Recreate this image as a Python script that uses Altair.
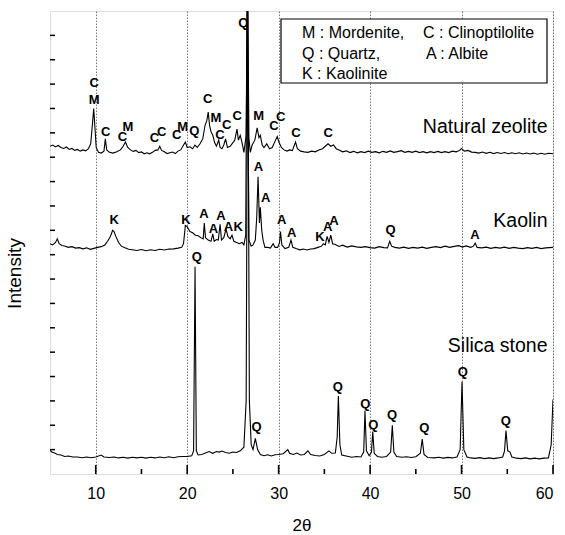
import altair as alt
import pandas as pd

# ---------------- data ----------------
# (2theta, intensity) points of each XRD trace (offset stacked)
zeolite = [
    (5.0, 13.45), (5.3, 13.5), (5.6, 13.42), (5.9, 13.48), (6.2, 13.4), (6.5, 13.36), (6.8, 13.42),
    (7.1, 13.32), (7.4, 13.36), (7.7, 13.28), (8.0, 13.32), (8.3, 13.25), (8.6, 13.3), (8.9, 13.26),
    (9.2, 13.35), (9.45, 13.55), (9.65, 14.4), (9.78, 15.0), (9.9, 14.3), (10.05, 13.4), (10.3, 13.2),
    (10.6, 13.17), (10.9, 13.25), (11.05, 13.75), (11.2, 13.3), (11.5, 13.2), (11.9, 13.17),
    (12.3, 13.22), (12.7, 13.3), (13.0, 13.45), (13.25, 13.62), (13.5, 13.4), (13.8, 13.3),
    (14.1, 13.24), (14.4, 13.28), (14.7, 13.19), (15.0, 13.22), (15.3, 13.14), (15.6, 13.18),
    (15.9, 13.14), (16.2, 13.2), (16.5, 13.28), (16.8, 13.3), (17.0, 13.45), (17.2, 13.28),
    (17.5, 13.22), (17.8, 13.15), (18.1, 13.18), (18.4, 13.21), (18.7, 13.15), (19.0, 13.25),
    (19.3, 13.3), (19.6, 13.5), (19.8, 13.62), (20.0, 13.4), (20.3, 13.43), (20.6, 13.35),
    (20.85, 13.5), (21.1, 13.4), (21.4, 13.55), (21.7, 13.75), (21.95, 14.3), (22.15, 14.5),
    (22.3, 14.85), (22.45, 14.3), (22.6, 14.05), (22.8, 13.9), (23.0, 13.6), (23.2, 13.45),
    (23.45, 13.7), (23.6, 13.4), (23.8, 13.35), (24.0, 13.5), (24.2, 13.75), (24.4, 13.4),
    (24.7, 13.45), (25.0, 13.6), (25.2, 13.7), (25.45, 14.15), (25.6, 13.7), (25.8, 13.9),
    (26.0, 13.6), (26.2, 13.2), (26.45, 13.9), (26.6, 20.5), (26.75, 13.8), (26.9, 13.2),
    (27.1, 13.5), (27.4, 13.7), (27.65, 14.2), (27.85, 13.8), (28.0, 13.9), (28.2, 13.5),
    (28.4, 13.4), (28.7, 13.55), (29.0, 13.35), (29.3, 13.4), (29.6, 13.65), (29.85, 13.85),
    (30.05, 13.6), (30.3, 13.4), (30.6, 13.3), (30.9, 13.25), (31.2, 13.3), (31.5, 13.27),
    (31.85, 13.62), (32.05, 13.35), (32.4, 13.25), (32.8, 13.22), (33.2, 13.2), (33.6, 13.25),
    (34.0, 13.22), (34.4, 13.3), (34.8, 13.35), (35.1, 13.45), (35.4, 13.55), (35.7, 13.45),
    (36.0, 13.5), (36.3, 13.35), (36.6, 13.3), (37.0, 13.22), (37.4, 13.26), (37.8, 13.19),
    (38.2, 13.24), (38.6, 13.18), (39.0, 13.23), (39.4, 13.19), (39.8, 13.25), (40.2, 13.2),
    (40.6, 13.23), (41.0, 13.18), (41.4, 13.24), (41.8, 13.2), (42.2, 13.26), (42.6, 13.2),
    (43.0, 13.23), (43.4, 13.27), (43.8, 13.2), (44.2, 13.24), (44.6, 13.2), (45.0, 13.25),
    (45.4, 13.19), (45.8, 13.23), (46.2, 13.18), (46.6, 13.23), (47.0, 13.19), (47.4, 13.24),
    (47.8, 13.19), (48.2, 13.23), (48.6, 13.19), (49.0, 13.25), (49.4, 13.22), (49.8, 13.28),
    (50.0, 13.36), (50.3, 13.25), (50.7, 13.28), (51.1, 13.21), (51.5, 13.2), (51.9, 13.17),
    (52.3, 13.21), (52.7, 13.16), (53.1, 13.2), (53.5, 13.15), (53.9, 13.19), (54.3, 13.15),
    (54.7, 13.19), (55.1, 13.14), (55.5, 13.18), (55.9, 13.14), (56.3, 13.18), (56.7, 13.13),
    (57.1, 13.17), (57.5, 13.13), (57.9, 13.17), (58.3, 13.12), (58.7, 13.16), (59.1, 13.12),
    (59.5, 13.16), (60.0, 13.14),
]

kaolin = [
    (5.0, 9.45), (5.3, 9.4), (5.6, 9.5), (5.8, 9.65), (6.0, 9.45), (6.3, 9.38), (6.6, 9.36),
    (7.0, 9.3), (7.4, 9.33), (7.8, 9.27), (8.2, 9.29), (8.6, 9.24), (9.0, 9.28), (9.4, 9.22),
    (9.8, 9.26), (10.2, 9.3), (10.6, 9.33), (11.0, 9.4), (11.3, 9.55), (11.6, 9.75), (11.85, 10.0),
    (12.0, 9.95), (12.2, 9.75), (12.5, 9.5), (12.8, 9.35), (13.2, 9.28), (13.6, 9.22), (14.0, 9.2),
    (14.5, 9.17), (15.0, 9.21), (15.5, 9.16), (16.0, 9.2), (16.5, 9.17), (17.0, 9.22), (17.5, 9.19),
    (18.0, 9.23), (18.5, 9.24), (19.0, 9.27), (19.4, 9.3), (19.6, 9.45), (19.8, 10.2), (20.0, 10.15),
    (20.3, 9.95), (20.6, 9.9), (20.9, 9.8), (21.2, 9.78), (21.5, 9.7), (21.75, 9.65), (21.87, 10.3),
    (22.0, 9.7), (22.3, 9.6), (22.6, 9.55), (22.8, 9.85), (22.95, 9.55), (23.2, 9.62), (23.4, 9.6),
    (23.6, 10.25), (23.75, 9.6), (24.0, 9.7), (24.25, 10.05), (24.45, 9.75), (24.7, 9.65),
    (24.9, 9.8), (25.1, 9.55), (25.4, 9.5), (25.7, 9.45), (26.0, 9.5), (26.2, 9.4), (26.4, 9.8),
    (26.55, 20.5), (26.75, 9.6), (27.0, 9.35), (27.2, 9.4), (27.45, 9.6), (27.6, 10.5),
    (27.75, 12.2), (27.9, 10.3), (28.0, 10.95), (28.15, 10.0), (28.3, 9.6), (28.5, 9.3),
    (28.8, 9.3), (29.1, 9.27), (29.4, 9.45), (29.6, 9.3), (29.9, 9.3), (30.1, 9.5), (30.2, 9.95),
    (30.35, 9.4), (30.7, 9.25), (31.1, 9.3), (31.35, 9.6), (31.55, 9.3), (31.9, 9.25), (32.3, 9.2),
    (32.7, 9.23), (33.1, 9.19), (33.5, 9.23), (33.9, 9.25), (34.3, 9.3), (34.7, 9.35), (34.9, 9.45),
    (35.1, 9.4), (35.3, 9.75), (35.5, 9.5), (35.7, 9.8), (35.9, 9.45), (36.2, 9.42), (36.6, 9.34),
    (37.0, 9.39), (37.5, 9.31), (38.0, 9.36), (38.5, 9.32), (39.0, 9.3), (39.5, 9.33), (40.0, 9.29),
    (40.5, 9.27), (41.0, 9.33), (41.5, 9.29), (41.9, 9.28), (42.15, 9.55), (42.35, 9.35),
    (42.7, 9.3), (43.2, 9.27), (43.7, 9.31), (44.2, 9.26), (44.7, 9.3), (45.2, 9.27), (45.7, 9.31),
    (46.2, 9.26), (46.7, 9.3), (47.2, 9.33), (47.7, 9.29), (48.2, 9.35), (48.7, 9.3), (49.2, 9.34),
    (49.7, 9.37), (50.1, 9.31), (50.5, 9.36), (51.0, 9.3), (51.3, 9.35), (51.5, 9.47), (51.7, 9.3),
    (52.2, 9.28), (52.7, 9.31), (53.2, 9.26), (53.7, 9.3), (54.2, 9.27), (54.7, 9.31), (55.2, 9.26),
    (55.7, 9.3), (56.2, 9.27), (56.7, 9.25), (57.2, 9.29), (57.7, 9.26), (58.2, 9.3), (58.7, 9.25),
    (59.2, 9.28), (60.0, 9.3),
]

silica = [
    (5.0, 0.98), (5.2, 0.9), (5.5, 0.86), (5.8, 0.8), (6.2, 0.78), (6.6, 0.72), (7.0, 0.74),
    (7.5, 0.7), (8.0, 0.7), (8.5, 0.67), (9.0, 0.7), (9.5, 0.67), (10.0, 0.7), (10.6, 0.78),
    (10.9, 0.7), (11.5, 0.68), (12.0, 0.7), (12.5, 0.66), (13.0, 0.69), (13.5, 0.65), (14.0, 0.69),
    (14.5, 0.66), (15.0, 0.69), (15.5, 0.65), (16.0, 0.69), (16.5, 0.66), (17.0, 0.7), (17.5, 0.67),
    (18.0, 0.71), (18.5, 0.67), (19.0, 0.71), (19.5, 0.72), (20.0, 0.72), (20.5, 0.75), (20.7, 0.95),
    (20.86, 8.5), (21.0, 0.95), (21.2, 0.78), (21.6, 0.8), (22.0, 0.86), (22.4, 0.92), (22.8, 0.85),
    (23.2, 0.92), (23.5, 0.9), (23.8, 0.94), (24.2, 0.88), (24.6, 0.85), (25.0, 0.9), (25.4, 0.88),
    (25.8, 0.95), (26.2, 1.1), (26.45, 3.0), (26.62, 20.5), (26.8, 3.0), (27.0, 1.2), (27.2, 1.0),
    (27.45, 1.46), (27.7, 1.0), (28.0, 0.8), (28.4, 0.75), (28.8, 0.79), (29.2, 0.74), (29.6, 0.79),
    (30.0, 0.8), (30.5, 0.83), (31.0, 1.0), (31.2, 0.85), (31.6, 0.8), (32.0, 0.86), (32.4, 0.78),
    (32.8, 0.8), (33.2, 0.95), (33.5, 0.8), (34.0, 0.76), (34.5, 0.74), (35.0, 0.8), (35.5, 0.95),
    (35.8, 0.85), (36.2, 0.86), (36.4, 1.5), (36.53, 3.2), (36.7, 1.2), (36.9, 0.78), (37.5, 0.73),
    (38.0, 0.69), (38.5, 0.72), (39.0, 0.7), (39.3, 0.9), (39.44, 2.6), (39.6, 0.95), (39.9, 0.75),
    (40.15, 0.9), (40.29, 1.74), (40.45, 0.85), (40.8, 0.72), (41.3, 0.69), (41.8, 0.72),
    (42.25, 0.9), (42.43, 2.0), (42.6, 0.9), (42.9, 0.72), (43.5, 0.69), (44.0, 0.71), (44.5, 0.68),
    (45.0, 0.71), (45.5, 0.85), (45.7, 1.43), (45.9, 0.8), (46.3, 0.68), (47.0, 0.66), (47.5, 0.69),
    (48.0, 0.65), (48.5, 0.68), (49.0, 0.66), (49.5, 0.7), (49.85, 1.0), (50.05, 3.79), (50.25, 1.0),
    (50.6, 0.7), (51.0, 0.66), (51.5, 0.64), (52.0, 0.67), (52.5, 0.63), (53.0, 0.66), (53.5, 0.63),
    (54.0, 0.66), (54.5, 0.7), (54.7, 0.95), (54.86, 1.78), (55.05, 0.95), (55.3, 0.9), (55.5, 0.7),
    (56.0, 0.65), (56.5, 0.63), (57.0, 0.66), (57.5, 0.62), (58.0, 0.65), (58.5, 0.62), (59.0, 0.65),
    (59.5, 0.66), (59.8, 1.2), (60.0, 3.06),
]

# peak annotations: letter, 2theta, height
peak_letters = ["C", "M", "C", "C", "M", "C", "C", "C", "M", "Q", "C", "M", "C", "C", "C", "Q",
                "M", "C", "C", "C", "C",
                "K", "K", "A", "A", "A", "A", "K", "A", "A", "A", "A", "K", "A", "A", "Q", "A",
                "Q", "Q", "Q", "Q", "Q", "Q", "Q", "Q", "Q"]
peak_x = [9.84, 9.84, 11.09, 12.91, 13.53, 16.41, 17.21, 18.85, 19.51, 20.78, 22.24, 23.15, 23.59,
          24.32, 25.48, 26.14, 27.82, 29.49, 30.23, 31.9, 35.43,
          12.03, 19.87, 21.84, 22.86, 23.7, 24.5, 25.59, 27.78, 28.59, 30.34, 31.43, 34.52, 35.37,
          36.06, 42.25, 51.47,
          21.04, 27.6, 36.46, 39.48, 40.35, 42.4, 45.93, 50.13, 54.83]
peak_y = [16.06, 15.35, 14.05, 13.84, 14.25, 13.78, 14.05, 13.91, 14.25, 14.07, 15.38, 14.6, 13.91,
          14.32, 14.69, 18.52, 14.69, 14.28, 14.66, 13.99, 14.0,
          10.42, 10.42, 10.67, 10.04, 10.59, 10.15, 10.15, 12.61, 11.31, 10.42, 9.9, 9.74, 10.15,
          10.39, 10.01, 9.81,
          8.89, 1.92, 3.58, 2.87, 2.01, 2.42, 1.88, 4.2, 2.17]

series_names = ["Natural zeolite", "Kaolin", "Silica stone"]
series_label_x = [59.4, 59.4, 59.4]
series_label_y = [13.99, 10.14, 5.0]

legend_lines = ["M : Mordenite,", "C : Clinoptilolite", "Q : Quartz,", "A : Albite", "K : Kaolinite"]

x_major = [10, 20, 30, 40, 50, 60]
x_minor = [15, 25, 35, 45, 55]
y_ticks = list(range(1, 19))

FONT = "Liberation Sans"
PLOT_H = 463

# ---------------- build tables ----------------
rows = []
for name, pts in zip(series_names, [zeolite, kaolin, silica]):
    for i, (x, y) in enumerate(pts):
        rows.append({"series": name, "x": x, "y": y, "order": i})
trace_df = pd.DataFrame(rows)
peaks_df = pd.DataFrame({"t": peak_letters, "x": peak_x, "y": peak_y})
names_df = pd.DataFrame({"t": series_names, "x": series_label_x, "y": series_label_y})

xs = alt.Scale(domain=[5, 60], nice=False, zero=False)
ys = alt.Scale(domain=[0, 19], nice=False, zero=False)

lines = alt.Chart(trace_df).mark_line(color="black", strokeWidth=1.1, clip=True).encode(
    x=alt.X("x:Q", scale=xs, axis=alt.Axis(
        orient="bottom", values=x_major, format="d", grid=True, gridDash=[1.5, 1.5],
        gridColor="#555555", gridWidth=0.8, ticks=False, domain=False,
        labelFont=FONT, labelFontSize=16, labelColor="black", labelPadding=11,
        title="2θ", titleFont=FONT, titleFontSize=17, titleFontWeight="normal",
        titleColor="black", titlePadding=16)),
    y=alt.Y("y:Q", scale=ys, axis=alt.Axis(
        orient="left", labels=False, ticks=False, domain=False, grid=False,
        title="Intensity", titleFont=FONT, titleFontSize=19, titleFontWeight="normal",
        titleColor="black", titleX=-26, titleY=262)),
    detail="series:N",
    order="order:Q",
)

# inward ticks drawn as short rules at the tick values
xmaj_ticks = alt.Chart(pd.DataFrame({"x": x_major})).mark_rule(color="black", strokeWidth=1.6).encode(
    x=alt.X("x:Q", scale=xs, axis=None), y=alt.value(PLOT_H - 9), y2=alt.value(PLOT_H))
xmin_ticks = alt.Chart(pd.DataFrame({"x": x_minor})).mark_rule(color="black", strokeWidth=1.6).encode(
    x=alt.X("x:Q", scale=xs, axis=None), y=alt.value(PLOT_H - 5), y2=alt.value(PLOT_H))
yticks = alt.Chart(pd.DataFrame({"y": y_ticks})).mark_rule(color="black", strokeWidth=1.5).encode(
    y=alt.Y("y:Q", scale=ys, axis=None), x=alt.value(0), x2=alt.value(5))

peak_text = alt.Chart(peaks_df).mark_text(
    font=FONT, fontSize=13, fontWeight="bold", color="black", baseline="middle", align="center"
).encode(
    x=alt.X("x:Q", scale=xs, axis=None),
    y=alt.Y("y:Q", scale=ys, axis=None),
    text="t:N",
)

name_text = alt.Chart(names_df).mark_text(
    font=FONT, fontSize=19.5, color="black", baseline="alphabetic", align="right"
).encode(
    x=alt.X("x:Q", scale=xs, axis=None),
    y=alt.Y("y:Q", scale=ys, axis=None),
    text="t:N",
)

legend_box = alt.Chart(pd.DataFrame({"k": [0]})).mark_rect(
    fill="white", stroke="black", strokeWidth=1.2
).encode(x=alt.value(231), x2=alt.value(497), y=alt.value(8), y2=alt.value(72))

legend_pos = [(252, 27), (373, 27), (252, 48), (376, 48), (252, 68)]
legend_layers = []
for txt, (px, py) in zip(legend_lines, legend_pos):
    legend_layers.append(
        alt.Chart(pd.DataFrame({"t": [txt]})).mark_text(
            font=FONT, fontSize=16, color="black", align="left", baseline="alphabetic"
        ).encode(x=alt.value(px), y=alt.value(py), text="t:N")
    )

chart = alt.layer(
    lines, xmaj_ticks, xmin_ticks, yticks, peak_text, name_text, legend_box, *legend_layers
).resolve_axis(x="independent", y="independent").properties(
    width=503, height=PLOT_H,
    padding={"left": 50, "top": 11, "right": 12, "bottom": 61},
    autosize=alt.AutoSizeParams(type="none"),
).configure_view(stroke="black", strokeWidth=1.6).configure(background="white")

chart.save("out.html", embed_options={"renderer": "svg", "actions": False})
